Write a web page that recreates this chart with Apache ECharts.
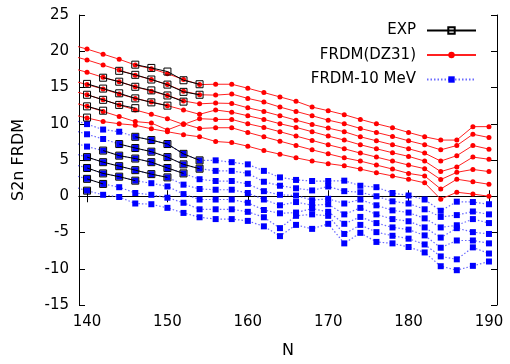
<!DOCTYPE html>
<html><head><meta charset="utf-8">
<script src="https://cdn.jsdelivr.net/npm/echarts@6/dist/echarts.min.js"></script>
<style>html,body{margin:0;padding:0;background:#fff}#c{width:510px;height:364px}</style>
</head><body><div id="c"></div>
<script>
// Neutron numbers (138 lies just left of the visible axis, so lines enter from the edge)
const N = [138,140,142,144,146,148,150,152,154,156,158,160,162,164,166,168,170,172,174,176,178,180,182,184,186,188,190];

// FRDM(DZ31) S2n chains (MeV)
const frdm1 = [20.9,20.3,19.6,18.9,18.1,17.6,16.9,16.1,15.4,15.45,15.45,14.9,14.3,13.7,13.1,12.3,11.8,11.25,10.6,10.0,9.45,8.8,8.2,7.75,7.75,9.6,9.6];
const frdm2 = [19.4,18.8,18.1,17.4,16.7,16.1,15.4,14.5,14.0,13.95,14.1,13.5,13.0,12.3,11.7,11.1,10.5,10.0,9.35,8.8,8.25,7.65,7.1,6.4,7.0,8.55,8.1];
const frdm3 = [17.7,17.1,16.4,15.8,15.1,14.5,13.9,13.15,12.75,12.85,12.8,12.2,11.7,11.1,10.5,9.9,9.4,8.9,8.2,7.65,7.1,6.55,5.95,4.85,5.6,7.0,6.5];
const frdm4 = [16.0,15.4,14.8,14.1,13.5,13.0,12.5,11.9,11.3,11.9,11.6,11.1,10.6,10.0,9.5,8.9,8.3,7.75,7.1,6.55,6.0,5.5,4.85,3.4,4.05,5.4,5.1];
const frdm5 = [14.6,14.0,13.3,12.6,11.9,11.3,10.7,9.9,10.7,10.6,10.6,10.0,9.5,8.9,8.3,7.7,7.1,6.55,5.95,5.4,4.85,4.3,3.8,2.3,3.3,3.7,3.4];
const frdm6 = [13.0,12.4,11.7,11.0,10.3,10.1,9.15,10.0,9.35,9.45,9.45,8.8,8.2,7.6,7.0,6.4,5.85,5.3,4.85,4.3,3.75,3.15,2.8,1.0,2.35,2.0,1.65];
const frdm7 = [11.3,10.8,10.3,10.0,9.8,9.3,8.9,8.5,8.2,7.55,7.4,6.9,6.3,5.8,5.3,4.85,4.5,4.2,3.75,3.25,2.8,2.35,1.85,-0.4,0.55,0.3,0.0];

// FRDM - 10 MeV chains
const low1 = [10.6,9.95,9.2,8.9,8.2,7.75,7.2,5.85,4.95,4.95,4.7,4.4,3.5,2.6,2.25,2.1,2.1,2.15,1.45,1.25,0.45,0.1,-0.45,-2.0,-0.75,-0.8,-1.1];
const low2 = [9.2,8.55,7.9,7.2,6.65,6.15,5.4,4.4,3.8,3.5,3.5,3.15,2.0,1.45,1.1,0.8,1.35,0.7,0.55,0.0,-0.7,-1.0,-1.8,-2.85,-2.6,-2.1,-2.5];
const low3 = [7.5,6.85,6.3,5.6,5.2,4.7,3.9,3.15,2.35,2.1,2.1,1.7,0.7,0.2,0.1,-0.55,-0.35,-1.0,-0.45,-1.25,-1.95,-2.25,-3.05,-4.3,-4.0,-3.15,-3.7];
const low4 = [6.0,5.4,4.7,4.15,3.6,3.05,2.6,1.6,1.0,0.9,0.9,0.45,-0.45,-1.25,-0.8,-1.25,-1.1,-2.5,-1.6,-2.5,-3.15,-3.45,-4.3,-5.7,-4.4,-4.95,-5.2];
const low5 = [4.5,3.9,3.15,2.7,2.15,1.8,1.35,0.3,-0.45,-0.45,-0.45,-0.9,-1.9,-2.35,-2.25,-1.7,-2.15,-3.8,-2.85,-3.7,-4.3,-4.6,-5.4,-7.1,-6.1,-6.1,-6.5];
const low6 = [3.0,2.4,1.7,1.25,0.45,0.2,-0.2,-0.9,-1.8,-1.8,-1.8,-2.15,-2.9,-4.4,-2.7,-2.5,-2.7,-5.2,-3.95,-4.95,-5.45,-5.85,-6.65,-8.3,-8.7,-7.05,-7.9];
const low7 = [1.4,0.77,0.2,-0.1,-1.0,-1.1,-1.6,-2.3,-2.9,-3.15,-3.15,-3.4,-4.15,-5.5,-3.95,-4.5,-3.8,-6.5,-5.05,-6.3,-6.5,-7.0,-7.75,-9.65,-10.2,-9.6,-9.0];

// Experimental S2n (and the same shifted by 10 MeV)
const expN1 = [146,148,150,152,154], exp1 = [18.15,17.7,17.2,16.0,15.45], expLow1 = [8.2,7.75,7.2,5.85,4.95];
const expN2 = [144,146,148,150,152,154], exp2 = [17.3,16.75,16.1,15.4,14.4,14.0], expLow2 = [7.2,6.65,6.15,5.4,4.4,3.8];
const expN3 = [142,144,146,148,150,152], exp3 = [16.35,15.8,15.1,14.6,13.9,13.05], expLow3 = [6.3,5.6,5.2,4.7,3.9,3.15];
const expN4 = [140,142,144,146,148,150], exp4 = [15.5,14.85,14.2,13.5,12.95,12.5], expLow4 = [5.4,4.7,4.15,3.6,3.05,2.6];
const expN5 = [140,142,144,146], exp5 = [14.0,13.3,12.6,12.15], expLow5 = [3.9,3.15,2.7,2.15];
const expN6 = [140,142], exp6 = [12.4,11.8], expLow6 = [2.4,1.7];
const expN7 = [140], exp7 = [10.85], expLow7 = [0.77];

const xTicks = [140,150,160,170,180,190];
const FONT = 'DejaVu Sans';

const zip = (xs, ys) => xs.map((x, i) => [x, ys[i]]);
const series = [];
[frdm1,frdm2,frdm3,frdm4,frdm5,frdm6,frdm7].forEach(c => series.push({
  name: 'FRDM(DZ31)', type: 'line', data: zip(N, c), clip: true,
  symbol: 'circle', symbolSize: 5, z: 3,
  itemStyle: {color: '#ff0000'}, lineStyle: {color: '#ff2020', width: 1}
}));
[low1,low2,low3,low4,low5,low6,low7].forEach(c => series.push({
  name: 'FRDM-10 MeV', type: 'line', data: zip(N, c), clip: true,
  symbol: 'rect', symbolSize: 6, z: 2,
  itemStyle: {color: '#0000ff'}, lineStyle: {color: '#6a6aff', width: 1.2, type: [1.5, 2]}
}));
[[expN1,exp1,expLow1],[expN2,exp2,expLow2],[expN3,exp3,expLow3],[expN4,exp4,expLow4],
 [expN5,exp5,expLow5],[expN6,exp6,expLow6],[expN7,exp7,expLow7]].forEach(([n, a, b]) => {
  [a, b].forEach(v => series.push({
    name: 'EXP', type: 'line', data: zip(n, v), clip: true,
    symbol: 'rect', symbolSize: 7, z: 4,
    itemStyle: {color: 'rgba(0,0,0,0)', borderColor: '#000', borderWidth: 1},
    lineStyle: {color: '#000', width: 1}
  }));
});

const axisCommon = {
  axisLine: {show: true, lineStyle: {color: '#000', width: 1}},
  axisTick: {show: true, inside: true, length: 6, lineStyle: {color: '#000'}},
  splitLine: {show: false}
};

const chart = echarts.init(document.getElementById('c'), null, {renderer: 'canvas'});
chart.setOption({
  animation: false,
  backgroundColor: '#fff',
  grid: {left: 79, right: 13, top: 15, bottom: 53, show: false},
  legend: {
    data: ['EXP', 'FRDM(DZ31)', 'FRDM-10 MeV'],
    orient: 'vertical', align: 'right', right: 33, top: 23, padding: 0,
    itemWidth: 49, itemHeight: 8, itemGap: 9.5,
    textStyle: {fontFamily: FONT, fontSize: 15, color: '#000', padding: [0, 6, 0, 0]}
  },
  xAxis: [
    Object.assign({}, axisCommon, {
      type: 'value', min: 139, max: 191, position: 'bottom',
      axisTick: Object.assign({}, axisCommon.axisTick, {customValues: xTicks}),
      axisLabel: {customValues: xTicks, fontFamily: FONT, fontSize: 15, color: '#000', margin: 10},
      name: 'N', nameLocation: 'middle', nameGap: 38,
      nameTextStyle: {fontFamily: FONT, fontSize: 16, color: '#000'}
    }),
    Object.assign({}, axisCommon, {
      type: 'value', min: 139, max: 191, position: 'top',
      axisTick: Object.assign({}, axisCommon.axisTick, {customValues: xTicks}),
      axisLabel: {show: false}
    })
  ],
  yAxis: [
    Object.assign({}, axisCommon, {
      type: 'value', min: -15, max: 25, interval: 5, position: 'left',
      axisLabel: {fontFamily: FONT, fontSize: 15, color: '#000', margin: 10},
      name: 'S2n FRDM', nameLocation: 'middle', nameGap: 52,
      nameTextStyle: {fontFamily: FONT, fontSize: 16, color: '#000'}
    }),
    Object.assign({}, axisCommon, {
      type: 'value', min: -15, max: 25, interval: 5, position: 'right',
      axisLabel: {show: false}
    })
  ],
  series: series
});
</script>
</body></html>
